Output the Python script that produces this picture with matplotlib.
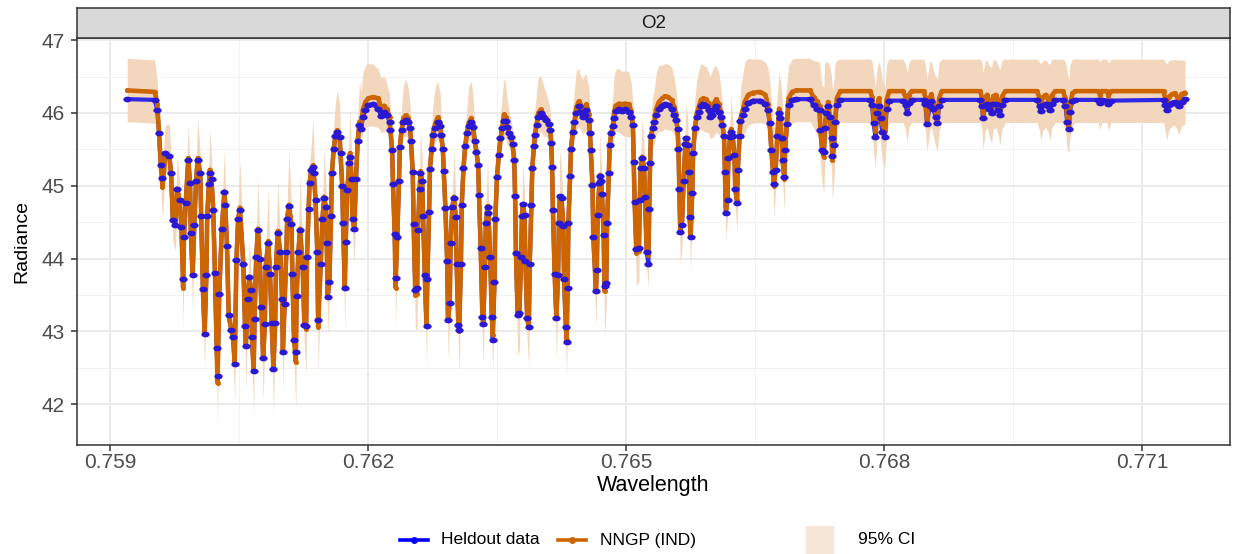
import numpy as np
import matplotlib
matplotlib.use("Agg")
import matplotlib.pyplot as plt
from matplotlib.lines import Line2D
from matplotlib.patches import Rectangle
from matplotlib.path import Path
from matplotlib.transforms import Affine2D

plt.rcParams['font.family'] = ['Liberation Sans', 'DejaVu Sans']

# O2 A-band radiance: held-out observations, NNGP (IND) mean and 95% interval
wavelength = [
    0.75920, 0.75952, 0.75955, 0.75957, 0.75959, 0.75961, 0.75964, 0.75969, 0.75971, 0.75973,
    0.75976, 0.75978, 0.75981, 0.75983, 0.75985, 0.75986, 0.75988, 0.75991, 0.75993, 0.75994,
    0.75996, 0.75998, 0.76000, 0.76002, 0.76005, 0.76006, 0.76008, 0.76010, 0.76012, 0.76013,
    0.76015, 0.76016, 0.76018, 0.76020, 0.76022, 0.76024, 0.76025, 0.76027, 0.76030, 0.76033,
    0.76034, 0.76036, 0.76038, 0.76041, 0.76043, 0.76045, 0.76047, 0.76049, 0.76051, 0.76055,
    0.76057, 0.76058, 0.76060, 0.76062, 0.76064, 0.76065, 0.76067, 0.76068, 0.76070, 0.76072,
    0.76074, 0.76076, 0.76078, 0.76080, 0.76081, 0.76084, 0.76086, 0.76088, 0.76090, 0.76092,
    0.76093, 0.76095, 0.76098, 0.76100, 0.76101, 0.76103, 0.76105, 0.76106, 0.76108, 0.76111,
    0.76112, 0.76114, 0.76116, 0.76117, 0.76119, 0.76121, 0.76124, 0.76126, 0.76128, 0.76129,
    0.76131, 0.76132, 0.76134, 0.76136, 0.76137, 0.76139, 0.76141, 0.76142, 0.76145, 0.76147,
    0.76149, 0.76151, 0.76152, 0.76153, 0.76155, 0.76157, 0.76158, 0.76160, 0.76162, 0.76164,
    0.76167, 0.76168, 0.76170, 0.76171, 0.76173, 0.76174, 0.76176, 0.76178, 0.76179, 0.76181,
    0.76182, 0.76184, 0.76186, 0.76188, 0.76190, 0.76192, 0.76194, 0.76197, 0.76200, 0.76206,
    0.76212, 0.76215, 0.76219, 0.76222, 0.76225, 0.76226, 0.76228, 0.76229, 0.76231, 0.76232,
    0.76234, 0.76236, 0.76237, 0.76239, 0.76241, 0.76244, 0.76247, 0.76249, 0.76250, 0.76252,
    0.76253, 0.76255, 0.76257, 0.76258, 0.76260, 0.76261, 0.76263, 0.76264, 0.76266, 0.76268,
    0.76269, 0.76271, 0.76272, 0.76274, 0.76275, 0.76278, 0.76281, 0.76284, 0.76285, 0.76287,
    0.76288, 0.76290, 0.76292, 0.76293, 0.76295, 0.76296, 0.76298, 0.76300, 0.76302, 0.76303,
    0.76305, 0.76306, 0.76308, 0.76309, 0.76311, 0.76313, 0.76315, 0.76317, 0.76320, 0.76322,
    0.76324, 0.76326, 0.76328, 0.76329, 0.76331, 0.76333, 0.76334, 0.76336, 0.76337, 0.76339,
    0.76340, 0.76342, 0.76344, 0.76345, 0.76347, 0.76348, 0.76350, 0.76352, 0.76354, 0.76356,
    0.76358, 0.76360, 0.76362, 0.76364, 0.76366, 0.76368, 0.76370, 0.76371, 0.76372, 0.76374,
    0.76376, 0.76378, 0.76379, 0.76380, 0.76382, 0.76383, 0.76385, 0.76387, 0.76388, 0.76390,
    0.76391, 0.76393, 0.76394, 0.76396, 0.76398, 0.76401, 0.76404, 0.76407, 0.76410, 0.76412,
    0.76413, 0.76414, 0.76415, 0.76417, 0.76419, 0.76421, 0.76422, 0.76423, 0.76425, 0.76427,
    0.76428, 0.76430, 0.76431, 0.76432, 0.76433, 0.76435, 0.76436, 0.76438, 0.76440, 0.76442,
    0.76445, 0.76447, 0.76450, 0.76452, 0.76454, 0.76457, 0.76458, 0.76459, 0.76461, 0.76462,
    0.76465, 0.76466, 0.76467, 0.76469, 0.76470, 0.76471, 0.76472, 0.76474, 0.76475, 0.76477,
    0.76478, 0.76480, 0.76481, 0.76483, 0.76485, 0.76486, 0.76488, 0.76492, 0.76495, 0.76499,
    0.76503, 0.76506, 0.76508, 0.76509, 0.76510, 0.76512, 0.76515, 0.76516, 0.76517, 0.76519,
    0.76521, 0.76522, 0.76524, 0.76526, 0.76527, 0.76528, 0.76529, 0.76531, 0.76533, 0.76535,
    0.76538, 0.76542, 0.76545, 0.76549, 0.76553, 0.76556, 0.76558, 0.76560, 0.76561, 0.76562,
    0.76563, 0.76565, 0.76567, 0.76569, 0.76570, 0.76572, 0.76573, 0.76574, 0.76575, 0.76577,
    0.76578, 0.76580, 0.76582, 0.76585, 0.76587, 0.76590, 0.76593, 0.76596, 0.76598, 0.76600,
    0.76603, 0.76605, 0.76608, 0.76610, 0.76612, 0.76614, 0.76615, 0.76616, 0.76618, 0.76619,
    0.76621, 0.76622, 0.76624, 0.76626, 0.76627, 0.76629, 0.76630, 0.76632, 0.76633, 0.76636,
    0.76638, 0.76642, 0.76648, 0.76656, 0.76662, 0.76665, 0.76667, 0.76669, 0.76671, 0.76672,
    0.76674, 0.76676, 0.76678, 0.76679, 0.76681, 0.76682, 0.76684, 0.76685, 0.76687, 0.76689,
    0.76693, 0.76698, 0.76714, 0.76718, 0.76722, 0.76725, 0.76726, 0.76728, 0.76730, 0.76731,
    0.76733, 0.76735, 0.76737, 0.76739, 0.76740, 0.76742, 0.76743, 0.76745, 0.76749, 0.76784,
    0.76786, 0.76788, 0.76790, 0.76792, 0.76794, 0.76796, 0.76798, 0.76801, 0.76803, 0.76806,
    0.76822, 0.76825, 0.76827, 0.76829, 0.76832, 0.76846, 0.76848, 0.76850, 0.76853, 0.76855,
    0.76857, 0.76860, 0.76862, 0.76864, 0.76867, 0.76912, 0.76914, 0.76915, 0.76918, 0.76920,
    0.76922, 0.76925, 0.76927, 0.76930, 0.76933, 0.76935, 0.76937, 0.76941, 0.76978, 0.76981,
    0.76982, 0.76985, 0.76988, 0.76991, 0.76993, 0.76995, 0.76999, 0.77008, 0.77011, 0.77013,
    0.77015, 0.77016, 0.77019, 0.77022, 0.77049, 0.77051, 0.77053, 0.77059, 0.77061, 0.77064,
    0.77125, 0.77127, 0.77129, 0.77131, 0.77135, 0.77138, 0.77141, 0.77143, 0.77146, 0.77150,
]

heldout = [
    46.19, 46.18, 46.04, 45.72, 45.28, 45.11, 45.45, 45.41, 45.18, 44.53,
    44.46, 44.96, 44.80, 44.44, 43.72, 44.30, 44.76, 45.35, 45.04, 44.35,
    43.77, 44.46, 45.07, 45.35, 45.17, 44.58, 43.58, 42.97, 43.77, 44.58,
    45.03, 45.18, 45.09, 44.67, 43.80, 42.77, 42.39, 43.52, 44.41, 44.92,
    44.74, 44.17, 43.22, 43.02, 42.93, 42.55, 43.98, 44.54, 44.67, 43.93,
    43.07, 42.80, 43.44, 43.75, 43.57, 42.93, 42.46, 43.17, 44.02, 44.39,
    44.00, 43.34, 42.63, 43.10, 43.89, 44.22, 43.79, 43.11, 42.48, 43.11,
    43.88, 44.35, 44.09, 43.45, 42.72, 43.38, 44.09, 44.55, 44.72, 44.47,
    43.79, 42.88, 42.72, 43.48, 44.09, 44.39, 43.89, 43.09, 43.07, 44.02,
    44.68, 45.04, 45.22, 45.26, 45.17, 44.80, 44.09, 43.16, 43.93, 44.55,
    44.83, 44.71, 44.22, 43.47, 43.68, 44.58, 45.17, 45.50, 45.68, 45.74,
    45.67, 45.45, 45.00, 44.49, 43.59, 44.23, 44.94, 45.32, 45.40, 45.10,
    44.55, 44.41, 45.10, 45.62, 45.84, 45.78, 45.95, 46.04, 46.11, 46.12,
    46.06, 45.96, 46.02, 45.97, 45.88, 45.77, 45.49, 45.03, 44.34, 43.73,
    44.30, 45.07, 45.53, 45.77, 45.87, 45.90, 45.88, 45.79, 45.61, 45.19,
    44.48, 43.57, 43.59, 44.39, 44.96, 45.18, 45.06, 44.58, 43.77, 43.07,
    43.72, 44.64, 45.23, 45.51, 45.70, 45.80, 45.88, 45.82, 45.70, 45.51,
    45.21, 44.69, 43.97, 43.15, 43.39, 44.21, 44.71, 44.83, 44.57, 43.93,
    43.09, 43.02, 43.93, 44.74, 45.24, 45.55, 45.72, 45.82, 45.88, 45.81,
    45.62, 45.47, 45.29, 44.88, 44.14, 43.20, 43.10, 43.89, 44.49, 44.71,
    44.63, 44.02, 43.20, 42.88, 43.68, 44.55, 45.12, 45.42, 45.65, 45.79,
    45.89, 45.89, 45.81, 45.73, 45.67, 45.58, 45.35, 44.86, 44.08, 43.22,
    43.25, 44.02, 44.58, 44.75, 44.60, 43.97, 43.18, 43.06, 43.92, 44.74,
    45.25, 45.54, 45.70, 45.84, 45.95, 46.00, 45.94, 45.90, 45.85, 45.77,
    45.59, 45.26, 44.67, 43.79, 43.18, 43.77, 44.49, 44.86, 44.83, 44.45,
    43.72, 43.06, 42.86, 43.59, 44.49, 45.13, 45.50, 45.74, 45.87, 46.00,
    46.09, 46.02, 45.95, 45.97, 46.04, 45.90, 45.73, 45.49, 45.01, 44.29,
    43.56, 43.84, 44.60, 45.04, 45.13, 45.06, 44.89, 44.32, 43.62, 43.66,
    44.49, 45.17, 45.56, 45.73, 45.82, 45.93, 46.03, 46.05, 46.03, 46.05,
    46.02, 45.95, 45.84, 45.33, 44.78, 44.13, 44.14, 44.80, 45.24, 45.38,
    45.24, 44.85, 44.09, 43.93, 44.68, 45.32, 45.68, 45.80, 45.88, 45.97,
    46.06, 46.10, 46.12, 46.11, 46.06, 45.97, 45.91, 45.78, 45.50, 44.96,
    44.37, 44.46, 45.07, 45.58, 45.65, 45.56, 45.19, 44.57, 44.30, 44.90,
    45.45, 45.79, 45.94, 46.02, 46.10, 46.12, 46.10, 46.04, 45.95, 45.97,
    46.06, 46.10, 46.02, 45.95, 45.84, 45.68, 45.19, 44.63, 44.81, 45.38,
    45.67, 45.74, 45.68, 45.42, 44.96, 44.76, 45.22, 45.68, 45.89, 45.97,
    46.06, 46.14, 46.17, 46.17, 46.13, 46.04, 45.86, 45.49, 45.19, 45.02,
    45.22, 45.68, 46.00, 45.93, 45.65, 45.35, 45.12, 45.49, 45.85, 46.11,
    46.18, 46.19, 46.19, 46.11, 46.06, 46.04, 45.77, 45.49, 45.46, 45.79,
    46.00, 46.09, 45.95, 45.65, 45.41, 45.56, 45.88, 46.11, 46.18, 46.18,
    46.11, 45.86, 45.67, 46.00, 46.10, 45.93, 45.74, 45.67, 46.06, 46.17,
    46.17, 46.11, 46.00, 46.14, 46.18, 46.18, 46.12, 45.85, 46.09, 46.16,
    46.06, 45.95, 45.86, 46.09, 46.18, 46.18, 46.09, 45.93, 46.11, 46.13,
    46.05, 46.00, 46.12, 46.13, 46.04, 45.97, 46.11, 46.18, 46.18, 46.10,
    46.03, 46.11, 46.13, 46.09, 46.04, 46.13, 46.18, 46.18, 46.10, 45.88,
    45.78, 46.02, 46.16, 46.18, 46.18, 46.14, 46.18, 46.17, 46.13, 46.17,
    46.18, 46.11, 46.04, 46.11, 46.14, 46.15, 46.12, 46.09, 46.15, 46.19,
]

nngp = [
    46.31, 46.29, 46.12, 45.72, 45.28, 44.98, 45.38, 45.40, 45.18, 44.55,
    44.46, 44.96, 44.80, 44.44, 43.60, 44.30, 44.76, 45.38, 45.04, 44.35,
    43.77, 44.46, 45.07, 45.38, 45.17, 44.58, 43.58, 42.97, 43.77, 44.58,
    45.03, 45.22, 45.09, 44.67, 43.80, 42.77, 42.29, 43.52, 44.41, 44.92,
    44.74, 44.17, 43.22, 43.02, 42.93, 42.55, 43.98, 44.54, 44.70, 43.93,
    43.07, 42.80, 43.44, 43.75, 43.57, 42.93, 42.46, 43.17, 44.02, 44.41,
    44.00, 43.34, 42.63, 43.10, 43.89, 44.24, 43.79, 43.11, 42.48, 43.11,
    43.88, 44.38, 44.09, 43.45, 42.72, 43.38, 44.09, 44.55, 44.74, 44.47,
    43.79, 42.88, 42.58, 43.48, 44.09, 44.41, 43.89, 43.09, 43.04, 44.02,
    44.68, 45.04, 45.22, 45.28, 45.17, 44.80, 44.09, 43.06, 43.93, 44.55,
    44.85, 44.71, 44.22, 43.47, 43.68, 44.58, 45.17, 45.50, 45.68, 45.76,
    45.67, 45.45, 45.00, 44.49, 43.59, 44.23, 44.94, 45.32, 45.45, 45.10,
    44.55, 44.41, 45.10, 45.62, 45.88, 45.84, 46.05, 46.15, 46.20, 46.22,
    46.20, 46.08, 46.10, 46.05, 45.95, 45.77, 45.49, 45.03, 44.34, 43.60,
    44.30, 45.07, 45.53, 45.77, 45.93, 45.97, 45.93, 45.79, 45.61, 45.19,
    44.48, 43.50, 43.52, 44.39, 44.96, 45.20, 45.06, 44.58, 43.77, 43.07,
    43.72, 44.64, 45.23, 45.51, 45.70, 45.85, 45.94, 45.86, 45.70, 45.51,
    45.21, 44.69, 43.97, 43.15, 43.39, 44.21, 44.71, 44.85, 44.57, 43.93,
    43.09, 43.00, 43.93, 44.74, 45.24, 45.55, 45.72, 45.86, 45.93, 45.84,
    45.62, 45.47, 45.29, 44.88, 44.14, 43.20, 43.10, 43.89, 44.49, 44.72,
    44.63, 44.02, 43.20, 42.95, 43.68, 44.55, 45.12, 45.42, 45.65, 45.79,
    45.98, 45.95, 45.81, 45.73, 45.67, 45.58, 45.35, 44.86, 44.08, 43.22,
    43.25, 44.02, 44.58, 44.72, 44.60, 43.97, 43.18, 43.06, 43.92, 44.74,
    45.25, 45.54, 45.70, 45.84, 46.00, 46.05, 45.98, 45.93, 45.85, 45.77,
    45.59, 45.26, 44.67, 43.79, 43.18, 43.77, 44.49, 44.85, 44.83, 44.45,
    43.72, 43.06, 42.88, 43.59, 44.49, 45.13, 45.50, 45.74, 45.87, 46.07,
    46.16, 46.12, 46.06, 46.08, 46.12, 45.98, 45.73, 45.49, 45.01, 44.29,
    43.56, 43.84, 44.60, 45.04, 45.15, 45.06, 44.89, 44.32, 43.55, 43.66,
    44.49, 45.17, 45.56, 45.73, 45.82, 46.00, 46.10, 46.13, 46.12, 46.13,
    46.12, 46.03, 45.84, 45.33, 44.78, 44.08, 44.10, 44.80, 45.24, 45.40,
    45.24, 44.85, 44.09, 44.05, 44.68, 45.32, 45.68, 45.80, 45.88, 46.05,
    46.15, 46.20, 46.23, 46.22, 46.18, 46.08, 45.98, 45.78, 45.50, 44.96,
    44.42, 44.46, 45.07, 45.58, 45.66, 45.56, 45.19, 44.57, 44.30, 44.90,
    45.45, 45.79, 45.98, 46.10, 46.18, 46.20, 46.19, 46.14, 46.05, 46.08,
    46.15, 46.19, 46.12, 46.02, 45.84, 45.68, 45.19, 44.70, 44.81, 45.38,
    45.67, 45.78, 45.68, 45.42, 44.96, 44.80, 45.22, 45.68, 45.92, 46.05,
    46.15, 46.25, 46.28, 46.29, 46.25, 46.12, 45.86, 45.49, 45.19, 45.00,
    45.22, 45.68, 46.06, 45.93, 45.65, 45.35, 45.10, 45.49, 45.85, 46.20,
    46.29, 46.31, 46.31, 46.22, 46.16, 46.10, 45.77, 45.49, 45.40, 45.79,
    46.00, 46.15, 45.95, 45.65, 45.35, 45.56, 45.88, 46.20, 46.30, 46.30,
    46.22, 45.95, 45.75, 46.08, 46.20, 46.02, 45.85, 45.75, 46.18, 46.30,
    46.30, 46.22, 46.10, 46.25, 46.30, 46.30, 46.22, 45.92, 46.20, 46.26,
    46.15, 46.00, 45.92, 46.20, 46.30, 46.30, 46.20, 46.00, 46.22, 46.25,
    46.15, 46.08, 46.23, 46.25, 46.14, 46.05, 46.22, 46.30, 46.30, 46.20,
    46.12, 46.22, 46.25, 46.18, 46.12, 46.24, 46.30, 46.30, 46.20, 45.95,
    45.80, 46.10, 46.27, 46.30, 46.30, 46.25, 46.30, 46.30, 46.24, 46.30,
    46.30, 46.20, 46.12, 46.22, 46.26, 46.27, 46.22, 46.18, 46.26, 46.28,
]

# distance from the NNGP mean up to / down to the 95% interval edges
ci_above = [
    0.44, 0.44, 0.30, 0.25, 0.20, 0.25, 0.45, 0.45, 0.20, 0.20,
    0.20, 0.45, 0.25, 0.20, 0.20, 0.20, 0.25, 0.45, 0.20, 0.20,
    0.20, 0.20, 0.20, 0.55, 0.25, 0.20, 0.20, 0.20, 0.20, 0.20,
    0.30, 0.55, 0.30, 0.20, 0.20, 0.20, 0.20, 0.20, 0.20, 0.60,
    0.30, 0.20, 0.20, 0.20, 0.20, 0.20, 0.20, 0.25, 0.65, 0.20,
    0.20, 0.20, 0.20, 0.50, 0.20, 0.20, 0.20, 0.20, 0.20, 0.70,
    0.20, 0.20, 0.20, 0.20, 0.20, 0.70, 0.20, 0.20, 0.20, 0.20,
    0.20, 0.70, 0.20, 0.20, 0.20, 0.20, 0.20, 0.25, 0.75, 0.25,
    0.20, 0.20, 0.20, 0.20, 0.20, 0.75, 0.20, 0.20, 0.20, 0.20,
    0.20, 0.25, 0.35, 0.65, 0.35, 0.20, 0.20, 0.20, 0.20, 0.20,
    0.65, 0.30, 0.20, 0.20, 0.20, 0.20, 0.20, 0.30, 0.45, 0.55,
    0.45, 0.25, 0.20, 0.20, 0.20, 0.20, 0.20, 0.35, 0.60, 0.30,
    0.20, 0.20, 0.20, 0.30, 0.55, 0.45, 0.50, 0.50, 0.48, 0.45,
    0.40, 0.40, 0.40, 0.35, 0.30, 0.25, 0.20, 0.20, 0.20, 0.20,
    0.20, 0.20, 0.20, 0.30, 0.45, 0.50, 0.40, 0.30, 0.20, 0.20,
    0.20, 0.20, 0.20, 0.20, 0.25, 0.60, 0.30, 0.20, 0.20, 0.20,
    0.20, 0.20, 0.20, 0.25, 0.35, 0.50, 0.50, 0.40, 0.25, 0.20,
    0.20, 0.20, 0.20, 0.20, 0.20, 0.20, 0.20, 0.65, 0.25, 0.20,
    0.20, 0.20, 0.20, 0.20, 0.20, 0.25, 0.35, 0.50, 0.50, 0.40,
    0.25, 0.20, 0.20, 0.20, 0.20, 0.20, 0.20, 0.20, 0.20, 0.65,
    0.30, 0.20, 0.20, 0.20, 0.20, 0.20, 0.20, 0.25, 0.35, 0.45,
    0.50, 0.45, 0.35, 0.30, 0.25, 0.20, 0.20, 0.20, 0.20, 0.20,
    0.20, 0.20, 0.20, 0.60, 0.30, 0.20, 0.20, 0.20, 0.20, 0.20,
    0.20, 0.25, 0.35, 0.45, 0.50, 0.45, 0.40, 0.35, 0.30, 0.25,
    0.20, 0.20, 0.20, 0.20, 0.20, 0.20, 0.20, 0.65, 0.40, 0.20,
    0.20, 0.20, 0.20, 0.20, 0.20, 0.20, 0.25, 0.35, 0.45, 0.50,
    0.45, 0.40, 0.40, 0.45, 0.40, 0.35, 0.30, 0.20, 0.20, 0.20,
    0.20, 0.20, 0.20, 0.20, 0.60, 0.30, 0.20, 0.20, 0.20, 0.20,
    0.20, 0.20, 0.25, 0.35, 0.45, 0.50, 0.50, 0.48, 0.45, 0.45,
    0.45, 0.40, 0.30, 0.20, 0.20, 0.20, 0.20, 0.20, 0.20, 0.55,
    0.30, 0.20, 0.20, 0.20, 0.20, 0.20, 0.30, 0.40, 0.45, 0.50,
    0.50, 0.46, 0.45, 0.45, 0.45, 0.40, 0.35, 0.30, 0.20, 0.20,
    0.20, 0.20, 0.20, 0.30, 0.50, 0.30, 0.20, 0.20, 0.20, 0.20,
    0.25, 0.40, 0.45, 0.50, 0.50, 0.45, 0.45, 0.42, 0.45, 0.50,
    0.50, 0.45, 0.42, 0.35, 0.30, 0.25, 0.20, 0.20, 0.20, 0.20,
    0.25, 0.45, 0.25, 0.20, 0.20, 0.20, 0.20, 0.30, 0.40, 0.50,
    0.55, 0.50, 0.46, 0.45, 0.45, 0.50, 0.60, 0.70, 0.75, 0.80,
    0.70, 0.60, 0.50, 0.55, 0.65, 0.75, 0.80, 0.70, 0.55, 0.45,
    0.45, 0.44, 0.44, 0.50, 0.55, 0.60, 0.80, 0.90, 0.95, 0.90,
    0.70, 0.55, 0.70, 0.85, 0.95, 0.90, 0.80, 0.52, 0.44, 0.44,
    0.50, 0.60, 0.60, 0.55, 0.50, 0.60, 0.60, 0.60, 0.50, 0.44,
    0.44, 0.45, 0.45, 0.45, 0.44, 0.44, 0.45, 0.55, 0.50, 0.45,
    0.45, 0.50, 0.55, 0.50, 0.44, 0.44, 0.50, 0.55, 0.50, 0.48,
    0.50, 0.55, 0.50, 0.48, 0.50, 0.55, 0.50, 0.44, 0.44, 0.50,
    0.55, 0.50, 0.48, 0.50, 0.55, 0.50, 0.44, 0.44, 0.50, 0.60,
    0.65, 0.55, 0.47, 0.44, 0.44, 0.45, 0.44, 0.44, 0.45, 0.44,
    0.44, 0.50, 0.55, 0.50, 0.47, 0.47, 0.50, 0.55, 0.47, 0.44,
]

ci_below = [
    0.43, 0.43, 0.30, 0.25, 0.25, 0.45, 0.20, 0.20, 0.20, 0.30,
    0.35, 0.20, 0.20, 0.20, 0.55, 0.20, 0.20, 0.20, 0.20, 0.20,
    0.50, 0.20, 0.20, 0.20, 0.20, 0.20, 0.25, 0.50, 0.20, 0.20,
    0.20, 0.20, 0.20, 0.20, 0.20, 0.30, 0.55, 0.20, 0.20, 0.20,
    0.20, 0.20, 0.20, 0.20, 0.30, 0.50, 0.20, 0.20, 0.20, 0.20,
    0.25, 0.60, 0.20, 0.20, 0.20, 0.30, 0.60, 0.20, 0.20, 0.20,
    0.20, 0.20, 0.60, 0.20, 0.20, 0.20, 0.20, 0.20, 0.60, 0.20,
    0.20, 0.20, 0.20, 0.20, 0.55, 0.20, 0.20, 0.20, 0.20, 0.20,
    0.20, 0.30, 0.65, 0.20, 0.20, 0.20, 0.20, 0.30, 0.65, 0.20,
    0.20, 0.20, 0.20, 0.20, 0.20, 0.20, 0.20, 0.65, 0.20, 0.20,
    0.20, 0.20, 0.20, 0.55, 0.20, 0.20, 0.20, 0.20, 0.20, 0.25,
    0.20, 0.20, 0.20, 0.20, 0.60, 0.20, 0.20, 0.20, 0.20, 0.20,
    0.20, 0.50, 0.20, 0.20, 0.25, 0.25, 0.30, 0.35, 0.38, 0.40,
    0.40, 0.35, 0.35, 0.30, 0.25, 0.20, 0.20, 0.20, 0.20, 0.55,
    0.20, 0.20, 0.20, 0.20, 0.25, 0.30, 0.25, 0.20, 0.20, 0.20,
    0.20, 0.45, 0.50, 0.20, 0.20, 0.20, 0.20, 0.20, 0.25, 0.55,
    0.20, 0.20, 0.20, 0.20, 0.20, 0.25, 0.30, 0.25, 0.20, 0.20,
    0.20, 0.20, 0.20, 0.55, 0.20, 0.20, 0.20, 0.20, 0.20, 0.20,
    0.30, 0.60, 0.20, 0.20, 0.20, 0.20, 0.20, 0.25, 0.30, 0.25,
    0.20, 0.20, 0.20, 0.20, 0.20, 0.30, 0.55, 0.20, 0.20, 0.20,
    0.20, 0.20, 0.30, 0.50, 0.20, 0.20, 0.20, 0.20, 0.20, 0.25,
    0.30, 0.30, 0.25, 0.20, 0.20, 0.20, 0.20, 0.20, 0.20, 0.55,
    0.50, 0.20, 0.20, 0.20, 0.20, 0.20, 0.30, 0.55, 0.20, 0.20,
    0.20, 0.20, 0.20, 0.25, 0.30, 0.30, 0.30, 0.25, 0.20, 0.20,
    0.20, 0.20, 0.20, 0.20, 0.60, 0.20, 0.20, 0.20, 0.20, 0.20,
    0.20, 0.30, 0.50, 0.20, 0.20, 0.20, 0.20, 0.20, 0.25, 0.30,
    0.35, 0.35, 0.35, 0.35, 0.35, 0.30, 0.20, 0.20, 0.20, 0.20,
    0.50, 0.20, 0.20, 0.20, 0.20, 0.20, 0.20, 0.20, 0.65, 0.30,
    0.20, 0.20, 0.20, 0.20, 0.25, 0.30, 0.35, 0.40, 0.42, 0.45,
    0.45, 0.35, 0.25, 0.20, 0.20, 0.45, 0.40, 0.20, 0.20, 0.20,
    0.20, 0.20, 0.20, 0.45, 0.20, 0.20, 0.20, 0.25, 0.30, 0.35,
    0.40, 0.45, 0.45, 0.45, 0.42, 0.38, 0.30, 0.25, 0.20, 0.20,
    0.50, 0.35, 0.20, 0.20, 0.20, 0.20, 0.20, 0.20, 0.50, 0.20,
    0.20, 0.25, 0.30, 0.35, 0.40, 0.45, 0.45, 0.42, 0.40, 0.42,
    0.45, 0.45, 0.42, 0.35, 0.30, 0.25, 0.20, 0.45, 0.25, 0.20,
    0.20, 0.20, 0.20, 0.20, 0.25, 0.45, 0.20, 0.20, 0.30, 0.35,
    0.42, 0.42, 0.42, 0.42, 0.40, 0.35, 0.30, 0.25, 0.25, 0.45,
    0.25, 0.20, 0.25, 0.20, 0.20, 0.25, 0.45, 0.20, 0.30, 0.40,
    0.43, 0.43, 0.43, 0.42, 0.45, 0.50, 0.45, 0.45, 0.50, 0.50,
    0.45, 0.45, 0.45, 0.45, 0.55, 0.45, 0.45, 0.42, 0.43, 0.43,
    0.45, 0.50, 0.50, 0.45, 0.40, 0.45, 0.50, 0.50, 0.45, 0.43,
    0.43, 0.45, 0.50, 0.45, 0.43, 0.43, 0.45, 0.45, 0.45, 0.45,
    0.45, 0.45, 0.45, 0.45, 0.43, 0.43, 0.45, 0.50, 0.45, 0.45,
    0.45, 0.50, 0.45, 0.45, 0.45, 0.50, 0.45, 0.43, 0.43, 0.45,
    0.50, 0.45, 0.45, 0.45, 0.50, 0.45, 0.43, 0.43, 0.45, 0.45,
    0.35, 0.45, 0.44, 0.43, 0.43, 0.48, 0.43, 0.43, 0.48, 0.43,
    0.43, 0.45, 0.50, 0.45, 0.44, 0.44, 0.45, 0.48, 0.44, 0.43,
]

x_ticks = [0.759, 0.762, 0.765, 0.768, 0.771]
x_minor = [0.7605, 0.7635, 0.7665, 0.7695]
y_ticks = [42, 43, 44, 45, 46, 47]
y_minor = [41.5, 42.5, 43.5, 44.5, 45.5, 46.5]
panel_label = "O2"
series_labels = ["Heldout data", "NNGP (IND)", "95% CI"]

W, H = 1239, 554
fig = plt.figure(figsize=(W / 100, H / 100), dpi=100)

def fx(px):
    return px / W

def fy(py):
    return 1 - py / H

L, R, T, B = 77, 1230, 38, 445
ax = fig.add_axes([fx(L), fy(B), fx(R - L), (B - T) / H])
strip = fig.add_axes([fx(L), fy(T), fx(R - L), (T - 8) / H])

wl = np.asarray(wavelength)
obs = np.asarray(heldout)
mu = np.asarray(nngp)
lo = mu - np.asarray(ci_below)
hi = mu + np.asarray(ci_above)

ORANGE = "#CD6600"
BLUE = "#0A0AEE"
BAND = "#F3D7BC"
ellipse = Path.unit_circle().transformed(Affine2D().scale(1.45, 1.0))

ax.fill_between(wl, lo, hi, color=BAND, linewidth=0, zorder=1)
ax.plot(wl, obs, color=BLUE, lw=3.0, alpha=0.85, zorder=2,
        solid_joinstyle="round", solid_capstyle="round")
ax.plot(wl, mu, color=ORANGE, lw=3.3, zorder=3, marker="o", ms=2.6,
        solid_joinstyle="round", solid_capstyle="round")
ax.plot(wl, obs, ls="none", marker=ellipse, ms=6.0, mew=0,
        color="#2A18D2", zorder=4)

ax.set_xlim(0.758616, 0.772023)
ax.set_ylim(41.44, 47.03)
ax.set_xticks(x_ticks)
ax.set_xticklabels([f"{t:.3f}" for t in x_ticks])
ax.set_xticks(x_minor, minor=True)
ax.set_yticks(y_ticks)
ax.set_yticks(y_minor, minor=True)
ax.grid(which="major", color="#EBEBEB", lw=1.4, zorder=0)
ax.grid(which="minor", color="#F2F2F2", lw=0.7, zorder=0)
ax.set_axisbelow(True)
for s in ax.spines.values():
    s.set_color("#333333")
    s.set_linewidth(1.1)
ax.tick_params(which="major", length=4, width=1.1, color="#333333",
               labelcolor="#4D4D4D", labelsize=15)
ax.tick_params(axis="x", which="major", pad=2)
ax.tick_params(axis="y", which="major", pad=5)
ax.tick_params(which="minor", length=0)
ax.set_xlabel("Wavelength", fontsize=15.5, color="black", labelpad=2)
ax.set_ylabel("Radiance", fontsize=14, color="black", labelpad=8)

strip.set_facecolor("#D9D9D9")
strip.set_xticks([])
strip.set_yticks([])
for s in strip.spines.values():
    s.set_color("#333333")
    s.set_linewidth(1.1)
strip.text(0.5, 0.5, panel_label, ha="center", va="center",
           fontsize=13.5, color="#1A1A1A", transform=strip.transAxes)

# legend along the bottom edge
ly = fy(540)
fig.add_artist(Line2D([fx(400), fx(428)], [ly, ly], color="#0000FF", lw=2.6,
                      transform=fig.transFigure))
fig.add_artist(Line2D([fx(414)], [ly], color="#0000FF", marker="o", ms=4,
                      transform=fig.transFigure))
fig.text(fx(441), ly, series_labels[0], ha="left", va="center",
         fontsize=12.5, color="black")
fig.add_artist(Line2D([fx(558), fx(586)], [ly, ly], color=ORANGE, lw=2.6,
                      transform=fig.transFigure))
fig.add_artist(Line2D([fx(572)], [ly], color=ORANGE, marker="o", ms=4,
                      transform=fig.transFigure))
fig.text(fx(600), ly, series_labels[1], ha="left", va="center",
         fontsize=12.5, color="black")
fig.patches.append(Rectangle((fx(806), 0), fx(27), 28 / H, color="#F5E6D8",
                             transform=fig.transFigure, figure=fig))
fig.text(fx(858), ly, series_labels[2], ha="left", va="center",
         fontsize=12.5, color="black")

fig.savefig("out.png", dpi=100)
